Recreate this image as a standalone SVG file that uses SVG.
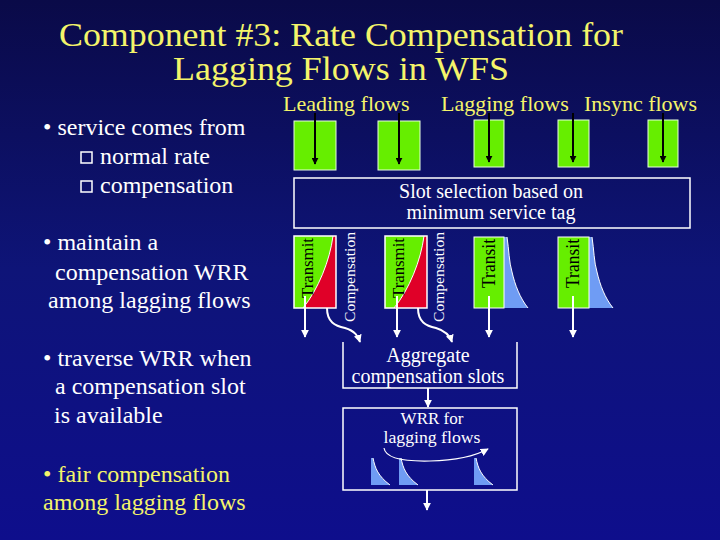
<svg xmlns="http://www.w3.org/2000/svg" width="720" height="540" viewBox="0 0 720 540" font-family="'Liberation Serif', 'Times New Roman', serif">
<defs>
<linearGradient id="bg" x1="0" y1="0" x2="0" y2="1">
<stop offset="0" stop-color="#0a0a48"/>
<stop offset="0.5" stop-color="#0e1478"/>
<stop offset="1" stop-color="#0e0e8c"/>
</linearGradient>
<marker id="ahW" viewBox="0 0 10 10" refX="9" refY="5" markerWidth="8" markerHeight="8" markerUnits="userSpaceOnUse" orient="auto">
<path d="M0,0 L10,5 L0,10 Z" fill="#ffffff"/>
</marker>
<marker id="ahK" viewBox="0 0 10 10" refX="9" refY="5" markerWidth="7" markerHeight="7" markerUnits="userSpaceOnUse" orient="auto">
<path d="M0,0 L10,5 L0,10 Z" fill="#000000"/>
</marker>
<style>
text{font-family:'Liberation Serif','Times New Roman',serif}
.title{fill:#f4f46a;font-size:34px}
.ylab{fill:#f4f46a;font-size:22px}
.wtxt{fill:#ffffff;font-size:24px}
.ytxt{fill:#f4f46a;font-size:24px}
.btxt{fill:#ffffff;font-size:20px}
.green{fill:#66ee00;stroke:#e8ffe0;stroke-width:1}
.red{fill:#e00028}
.blue{fill:#6f9cf4}
.frame{fill:none;stroke:#ffffff;stroke-width:1.5}
.wline{fill:none;stroke:#ffffff;stroke-width:2}
.kline{fill:none;stroke:#000000;stroke-width:2}
.edge{fill:none;stroke:#ffffff;stroke-width:1}
</style>
</defs>
<rect width="720" height="540" fill="url(#bg)"/>

<g id="title">
<text class="title" x="341" y="46" text-anchor="middle" textLength="564" lengthAdjust="spacingAndGlyphs">Component #3: Rate Compensation for</text>
<text class="title" x="341" y="80" text-anchor="middle" textLength="336" lengthAdjust="spacingAndGlyphs">Lagging Flows in WFS</text>
</g>

<g id="bullets">
<text class="wtxt" x="43" y="135">• service comes from</text>
<rect x="81" y="152" width="11" height="11" fill="none" stroke="#ffffff" stroke-width="1.5"/>
<text class="wtxt" x="100" y="164">normal rate</text>
<rect x="81" y="181" width="11" height="11" fill="none" stroke="#ffffff" stroke-width="1.5"/>
<text class="wtxt" x="100" y="193">compensation</text>
<text class="wtxt" x="43" y="250">• maintain a</text>
<text class="wtxt" x="55" y="280">compensation WRR</text>
<text class="wtxt" x="48" y="308">among lagging flows</text>
<text class="wtxt" x="43" y="366">• traverse WRR when</text>
<text class="wtxt" x="55" y="394">a compensation slot</text>
<text class="wtxt" x="54" y="423">is available</text>
<text class="ytxt" x="43" y="482">• fair compensation</text>
<text class="ytxt" x="43" y="510">among lagging flows</text>
</g>

<g id="flow-labels">
<text class="ylab" x="283" y="111">Leading flows</text>
<text class="ylab" x="441" y="111">Lagging flows</text>
<text class="ylab" x="584" y="111">Insync flows</text>
</g>

<g id="lead1-in"><rect class="green" x="294" y="121" width="42" height="49"/></g>
<g id="lead2-in"><rect class="green" x="378" y="121" width="42" height="49"/></g>
<g id="lag1-in"><rect class="green" x="474" y="120" width="30" height="47"/></g>
<g id="lag2-in"><rect class="green" x="558" y="120" width="31" height="47"/></g>
<g id="insync-in"><rect class="green" x="648" y="120" width="30" height="47"/></g>

<g id="slot-selection">
<rect class="frame" x="294" y="178" width="396" height="50"/>
<text class="btxt" x="491" y="198" text-anchor="middle">Slot selection based on</text>
<text class="btxt" x="491" y="219" text-anchor="middle">minimum service tag</text>
</g>

<g id="lead1-out">
<rect x="294" y="236" width="42" height="72" fill="#66ee00"/>
<path class="red" d="M303,308 C318,290 330,260 333,236 L336,236 L336,308 Z"/>
<path class="edge" d="M303,308 C318,290 330,260 333,236"/>
<rect class="frame" x="294" y="236" width="42" height="72" stroke-width="1"/>
<text x="313" y="298" transform="rotate(-90 313 298)" font-size="16" fill="#000" textLength="60" lengthAdjust="spacingAndGlyphs">Transmit</text>
<text x="355" y="322" transform="rotate(-90 355 322)" font-size="15" fill="#fff" textLength="90" lengthAdjust="spacingAndGlyphs">Compensation</text>
</g>

<g id="lead2-out">
<rect x="385" y="236" width="42" height="72" fill="#66ee00"/>
<path class="red" d="M394,308 C409,290 421,260 424,236 L427,236 L427,308 Z"/>
<path class="edge" d="M394,308 C409,290 421,260 424,236"/>
<rect class="frame" x="385" y="236" width="42" height="72" stroke-width="1"/>
<text x="404" y="298" transform="rotate(-90 404 298)" font-size="16" fill="#000" textLength="60" lengthAdjust="spacingAndGlyphs">Transmit</text>
<text x="444" y="322" transform="rotate(-90 444 322)" font-size="15" fill="#fff" textLength="90" lengthAdjust="spacingAndGlyphs">Compensation</text>
</g>

<g id="lag1-out">
<path class="blue" d="M504,237 L507,237 C509,250 509,262 512,272 C515,285 520,298 528,308 L504,308 Z"/>
<path class="edge" d="M507,237 C509,250 509,262 512,272 C515,285 520,298 528,308"/>
<rect x="474" y="237" width="30" height="71" fill="#66ee00" stroke="#ffffff" stroke-width="1"/>
<text x="495" y="288" transform="rotate(-90 495 288)" font-size="18" fill="#000" textLength="49" lengthAdjust="spacingAndGlyphs">Transit</text>
</g>

<g id="lag2-out">
<path class="blue" d="M589,237 L592,237 C594,250 594,262 597,272 C600,285 605,298 613,308 L589,308 Z"/>
<path class="edge" d="M592,237 C594,250 594,262 597,272 C600,285 605,298 613,308"/>
<rect x="558" y="237" width="31" height="71" fill="#66ee00" stroke="#ffffff" stroke-width="1"/>
<text x="579" y="288" transform="rotate(-90 579 288)" font-size="18" fill="#000" textLength="49" lengthAdjust="spacingAndGlyphs">Transit</text>
</g>

<g id="aggregate">
<path class="frame" d="M343,342 L343,388 L517,388 L517,342"/>
<text class="btxt" x="428" y="362" text-anchor="middle">Aggregate</text>
<text class="btxt" x="428" y="383" text-anchor="middle">compensation slots</text>
</g>

<g id="wrr">
<rect class="frame" x="343" y="408" width="174" height="82"/>
<text x="432" y="424" text-anchor="middle" font-size="17" fill="#fff">WRR for</text>
<text x="432" y="443" text-anchor="middle" font-size="17" fill="#fff" textLength="97" lengthAdjust="spacingAndGlyphs">lagging flows</text>
<path class="blue" d="M371,458 L373,458 C375,468 378,476 390,485 L371,485 Z"/>
<path class="edge" d="M373,458 C375,468 378,476 390,485"/>
<path class="blue" d="M399,458 L401,458 C403,468 406,476 418,485 L399,485 Z"/>
<path class="edge" d="M401,458 C403,468 406,476 418,485"/>
<path class="blue" d="M474,458 L476,458 C478,468 481,476 493,485 L474,485 Z"/>
<path class="edge" d="M476,458 C478,468 481,476 493,485"/>
<path d="M384,448 Q386,462 430,461 Q468,460 488,449" fill="none" stroke="#fff" stroke-width="1.2" marker-end="url(#ahW)"/>
</g>

<g id="connectors">
<line class="kline" x1="315" y1="113" x2="315" y2="164" marker-end="url(#ahK)"/>
<line class="kline" x1="399" y1="113" x2="399" y2="164" marker-end="url(#ahK)"/>
<line class="kline" x1="489" y1="113" x2="489" y2="162" marker-end="url(#ahK)"/>
<line class="kline" x1="573" y1="113" x2="573" y2="162" marker-end="url(#ahK)"/>
<line class="kline" x1="663" y1="113" x2="663" y2="162" marker-end="url(#ahK)"/>
<line class="wline" x1="305" y1="296" x2="305" y2="337" marker-end="url(#ahW)"/>
<line class="wline" x1="397" y1="296" x2="397" y2="337" marker-end="url(#ahW)"/>
<line class="wline" x1="489" y1="296" x2="489" y2="337" marker-end="url(#ahW)"/>
<line class="wline" x1="573" y1="296" x2="573" y2="337" marker-end="url(#ahW)"/>
<path class="wline" d="M327,308 C327,322 335,326 345,328 C355,331 358,336 360,342" marker-end="url(#ahW)"/>
<path class="wline" d="M418,308 C418,322 426,326 436,328 C446,331 450,336 452,342" marker-end="url(#ahW)"/>
<line class="wline" x1="428" y1="388" x2="428" y2="407" marker-end="url(#ahW)"/>
<line class="wline" x1="427" y1="490" x2="427" y2="510" marker-end="url(#ahW)"/>
</g>
</svg>
